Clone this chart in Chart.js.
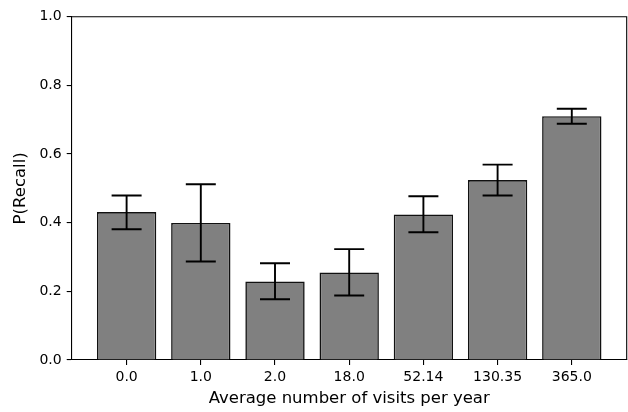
<!DOCTYPE html>
<html>
<head>
<meta charset="utf-8">
<script src="https://cdn.jsdelivr.net/npm/chart.js@4.4.1/dist/chart.umd.min.js"></script>
<style>
  body { margin: 0; background: #fff; }
  #wrap { width: 628px; height: 412px; }
</style>
</head>
<body>
<div id="wrap"><canvas id="recallChart" width="628" height="412"></canvas></div>
<script>
var visitLabels = ['0.0', '1.0', '2.0', '18.0', '52.14', '130.35', '365.0'];
var recallMean = [0.431, 0.399, 0.229, 0.255, 0.424, 0.524, 0.710];
var recallLow = [0.381, 0.287, 0.177, 0.188, 0.372, 0.479, 0.688];
var recallHigh = [0.479, 0.512, 0.282, 0.323, 0.477, 0.569, 0.732];
var yTicks = [0, 0.2, 0.4, 0.6, 0.8, 1.0];

var font = 'DejaVu Sans';

// error bars and the top/right frame lines
var errorBars = {
    id: 'errorBars',
    afterDatasetsDraw: function (chart) {
        var ctx = chart.ctx;
        var xs = chart.scales.x;
        var ys = chart.scales.y;
        ctx.save();
        ctx.strokeStyle = '#000';
        ctx.lineWidth = 1.9;
        for (var i = 0; i < recallMean.length; i++) {
            var x = xs.getPixelForValue(i);
            var lo = ys.getPixelForValue(recallLow[i]);
            var hi = ys.getPixelForValue(recallHigh[i]);
            ctx.beginPath();
            ctx.moveTo(x, lo);
            ctx.lineTo(x, hi);
            ctx.moveTo(x - 15, lo);
            ctx.lineTo(x + 15, lo);
            ctx.moveTo(x - 15, hi);
            ctx.lineTo(x + 15, hi);
            ctx.stroke();
        }
        var a = chart.chartArea;
        ctx.lineWidth = 1.1;
        ctx.beginPath();
        ctx.moveTo(a.left, a.top);
        ctx.lineTo(a.right, a.top);
        ctx.lineTo(a.right, a.bottom);
        ctx.stroke();
        ctx.restore();
    }
};

var ctx = document.getElementById('recallChart').getContext('2d');

var myChart = new Chart(ctx, {
    type: 'bar',
    data: {
        datasets: [{
            label: 'P(Recall)',
            data: recallMean.map(function (v, i) { return { x: i, y: v }; }),
            backgroundColor: '#808080',
            borderColor: '#111',
            borderWidth: 1.6,
            categoryPercentage: 1,
            barPercentage: 0.8
        }]
    },
    options: {
        responsive: false,
        animation: false,
        devicePixelRatio: 1,
        layout: { padding: { top: 16.7, right: 1.3, left: 0, bottom: 0 } },
        plugins: {
            legend: { display: false },
            tooltip: { enabled: false }
        },
        scales: {
            x: {
                type: 'linear',
                offset: false,
                min: -0.74,
                max: 6.74,
                afterBuildTicks: function (scale) {
                    scale.ticks = visitLabels.map(function (l, i) { return { value: i }; });
                },
                afterFit: function (scale) { scale.height = 52; },
                grid: { display: true, offset: false, drawOnChartArea: false, drawTicks: true, tickLength: 5, color: '#000', lineWidth: 1.1 },
                border: { display: true, color: '#000', width: 1.1 },
                ticks: {
                    padding: 4,
                    color: '#000',
                    font: { family: font, size: 14 },
                    maxRotation: 0,
                    callback: function (v) { return visitLabels[v]; }
                },
                title: {
                    display: true,
                    text: 'Average number of visits per year',
                    color: '#000',
                    font: { family: font, size: 16.5 },
                    padding: { top: 0, bottom: 3 }
                }
            },
            y: {
                min: 0,
                max: 1,
                afterBuildTicks: function (scale) {
                    scale.ticks = yTicks.map(function (v) { return { value: v }; });
                },
                afterFit: function (scale) { scale.width = 71.7; },
                grid: { display: true, drawOnChartArea: false, drawTicks: true, tickLength: 5, color: '#000', lineWidth: 1.1 },
                border: { display: true, color: '#000', width: 1.1 },
                ticks: {
                    padding: 5,
                    color: '#000',
                    font: { family: font, size: 14 },
                    callback: function (v) { return Number(v).toFixed(1); }
                },
                title: {
                    display: true,
                    text: 'P(Recall)',
                    color: '#000',
                    font: { family: font, size: 16.5 },
                    padding: { top: 11, bottom: 0 }
                }
            }
        }
    },
    plugins: [errorBars]
});
</script>
</body>
</html>
